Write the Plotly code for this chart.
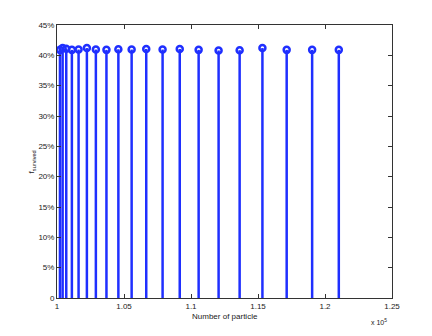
import plotly.graph_objects as go

# number of particles (raw counts) and survived fraction in percent
particles = [100220, 100420, 100690, 101110, 101610, 102230, 102900, 103690,
             104580, 105570, 106660, 107880, 109160, 110570, 112060, 113630,
             115330, 117140, 119040, 121030]
survived = [40.9, 41.2, 41.1, 40.9, 40.95, 41.2, 40.95, 40.9,
            41.0, 40.95, 41.05, 40.95, 41.05, 40.9, 40.8, 40.85,
            41.2, 40.9, 40.9, 40.9]

x_ticks = [1.0, 1.05, 1.1, 1.15, 1.2, 1.25]
x_ticktext = ["1", "1.05", "1.1", "1.15", "1.2", "1.25"]
y_ticks = [0, 5, 10, 15, 20, 25, 30, 35, 40, 45]
y_ticktext = ["0"] + [f"{v}%" for v in y_ticks[1:]]

BLUE = "#1f2fff"
FONT = "Liberation Sans"

xs = [p / 1e5 for p in particles]

# stem lines, one segment per point
stem_x, stem_y = [], []
for xv, yv in zip(xs, survived):
    stem_x += [xv, xv, None]
    stem_y += [0, yv, None]

fig = go.Figure()
fig.add_trace(go.Scatter(
    x=stem_x, y=stem_y, mode="lines",
    line=dict(color=BLUE, width=2.5),
    hoverinfo="skip", showlegend=False
))
fig.add_trace(go.Scatter(
    x=xs, y=survived, mode="markers",
    marker=dict(symbol="circle-open", size=6, color=BLUE,
                line=dict(color=BLUE, width=2.5)),
    showlegend=False
))

axis_common = dict(
    showgrid=False, zeroline=False, showline=True, mirror="ticks",
    linecolor="#333333", linewidth=1, ticks="inside", ticklen=4,
    tickcolor="#333333", tickfont=dict(family=FONT, size=8, color="#222222"),
    automargin=False,
)

# page body has an 8px margin, so the figure is a bit smaller than the window
fig.update_layout(
    width=424, height=328,
    margin=dict(l=49, r=40, t=17, b=38),
    paper_bgcolor="white", plot_bgcolor="white",
    font=dict(family=FONT, size=8, color="#222222"),
    xaxis=dict(range=[1.0, 1.25], tickvals=x_ticks, ticktext=x_ticktext,
               **axis_common),
    yaxis=dict(range=[0, 45], tickvals=y_ticks, ticktext=y_ticktext,
               **axis_common),
)
fig.add_annotation(
    x=0.5, xref="paper", y=-0.066, yref="paper",
    text="Number of particle", showarrow=False, xanchor="center", yanchor="middle",
    font=dict(family=FONT, size=8, color="#222222")
)
fig.add_annotation(
    x=-0.075, xref="paper", y=0.5, yref="paper", textangle=-90,
    text="f<sub>survived</sub>", showarrow=False, xanchor="center", yanchor="middle",
    font=dict(family=FONT, size=8, color="#222222")
)
fig.add_annotation(
    x=0.99, xref="paper", y=-0.088, yref="paper",
    text="x 10<sup>5</sup>", showarrow=False, xanchor="right", yanchor="middle",
    font=dict(family=FONT, size=7, color="#222222")
)

fig.write_html("out.html")
